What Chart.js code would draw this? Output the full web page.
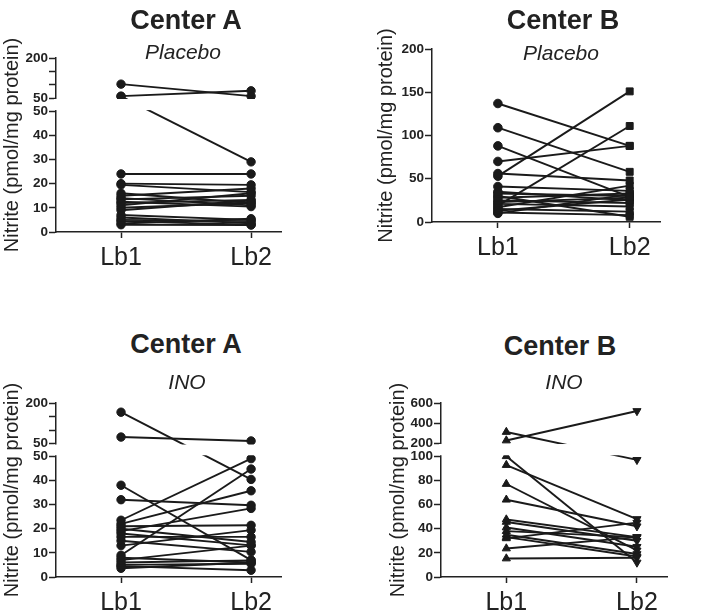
<!DOCTYPE html>
<html>
<head>
<meta charset="utf-8">
<script src="https://cdn.jsdelivr.net/npm/chart.js@4.4.1/dist/chart.umd.min.js"></script>
<style>
  body { margin: 0; background: #fff; }
  #wrap { position: relative; width: 706px; height: 613px; overflow: hidden; }
  canvas { position: absolute; }
  .ttl, .sub { position: absolute; width: 240px; text-align: center; color: #222;
               font-family: 'Liberation Sans', Arial, sans-serif; white-space: nowrap; }
  .ttl { font-size: 27px; line-height: 27px; font-weight: bold; }
  .sub { font-size: 21px; line-height: 21px; font-style: italic; }
</style>
</head>
<body>
<div id="wrap">
  <canvas id="c1" width="287" height="254" style="left:0px;top:23px"></canvas>
  <canvas id="c2" width="292" height="253" style="left:374px;top:14px"></canvas>
  <canvas id="c3" width="287" height="254" style="left:0px;top:368px"></canvas>
  <canvas id="c4" width="287" height="254" style="left:386px;top:368px"></canvas>

  <div class="ttl" style="left:66px;top:7px">Center A</div>
  <div class="sub" style="left:63px;top:41px">Placebo</div>
  <div class="ttl" style="left:443px;top:7px">Center B</div>
  <div class="sub" style="left:441px;top:42px">Placebo</div>
  <div class="ttl" style="left:66px;top:331px">Center A</div>
  <div class="sub" style="left:67px;top:371px">INO</div>
  <div class="ttl" style="left:440px;top:333px">Center B</div>
  <div class="sub" style="left:444px;top:371px">INO</div>
</div>
<script>
const categories = ['Lb1', 'Lb2'];

// Center A, placebo
const aPlaceboLb1 = [102, 57, 56, 24, 20, 19.5, 16, 15, 14, 13.5, 12.5, 12, 11, 10, 9, 7, 6, 5, 4.5, 3.5, 3];
const aPlaceboLb2 = [57, 77, 29, 24, 19.5, 16.5, 12, 18, 11, 15, 10.5, 13.3, 16, 12, 13, 5, 3.6, 4.5, 3, 5.5, 2.9];
// Center B, placebo
const bPlaceboLb1 = [137, 109, 88, 70, 56, 53, 41, 35, 33, 30, 28, 25, 23, 21, 19, 17, 15, 13, 11, 10];
const bPlaceboLb2 = [88, 58, 29, 88, 48, 151, 36, 25, 30, 6, 33, 22, 28, 18, 111, 42, 12, 26, 8, 32];
// Center A, INO
const aInoLb1 = [166, 74, 38, 32, 23.5, 22, 21, 20, 19, 18, 16.6, 15, 13, 9, 8, 7, 6, 5, 4.5, 3.6];
const aInoLb2 = [40.4, 59.6, 7, 29.7, 49, 35.7, 21.4, 14.5, 28.4, 13.1, 16.6, 10.4, 19.4, 44.7, 6, 13, 6.9, 5.5, 2.8, 6];
// Center B, INO
const bInoLb1 = [310, 225, 100, 92.7, 77, 64, 47.6, 45.6, 41, 38, 35, 33, 32, 23.6, 15.3];
const bInoLb2 = [97, 520, 12, 48, 22, 42, 33, 30, 25, 33, 19, 17, 45, 33, 16];

// y ticks
const aLowTicks = [0, 10, 20, 30, 40, 50];
const aHighTicks = [50, 100, 150, 200];
const aHighLabelled = [50, 200];
const bPlaceboTicks = [0, 50, 100, 150, 200];
const bInoLowTicks = [0, 20, 40, 60, 80, 100];
const bInoHighTicks = [200, 400, 600];

const FONT = "'Liberation Sans', Arial, sans-serif";
const INK = '#222';

// linear scale with a broken (two segment) axis
class BrokenScale extends Chart.LinearScale {
  _dec(v) {
    const b = this.options.brk;
    const up = 1 - b.low - b.gap;
    if (v <= b.lowTop) return (v - this.min) / (b.lowTop - this.min) * b.low;
    if (v < b.upBottom) return b.low + (v - b.lowTop) / (b.upBottom - b.lowTop) * b.gap;
    return b.low + b.gap + (v - b.upBottom) / (this.max - b.upBottom) * up;
  }
  getPixelForValue(v) {
    if (v === null || v === undefined || isNaN(v)) return NaN;
    return this.getPixelForDecimal(this._dec(v));
  }
  getValueForPixel(p) {
    const b = this.options.brk, d = this.getDecimalForPixel(p);
    if (d <= b.low) return this.min + d / b.low * (b.lowTop - this.min);
    if (d < b.low + b.gap) return b.lowTop + (d - b.low) / b.gap * (b.upBottom - b.lowTop);
    return b.upBottom + (d - b.low - b.gap) / (1 - b.low - b.gap) * (this.max - b.upBottom);
  }
}
BrokenScale.id = 'broken';
BrokenScale.defaults = Chart.LinearScale.defaults;
Chart.register(BrokenScale);

// white out the axis gap
const breakMask = {
  id: 'breakMask',
  afterDraw(chart) {
    const y = chart.scales.y;
    const b = y.options.brk;
    if (!b) return;
    const gTop = y.getPixelForDecimal(b.low + b.gap);
    const gBot = y.getPixelForDecimal(b.low);
    const ctx = chart.ctx;
    ctx.save();
    ctx.fillStyle = '#fff';
    ctx.fillRect(chart.chartArea.left - 2, gTop + 1, chart.width, gBot - gTop - 2);
    ctx.restore();
  }
};

function yAxis(width, extra) {
  return Object.assign({
    afterFit: s => { s.width = width; },
    title: { display: true, text: 'Nitrite (pmol/mg protein)', color: INK,
             font: { family: FONT, size: 20 }, padding: { top: 0, bottom: 0 } },
    grid: { drawOnChartArea: false, drawTicks: true, tickLength: 7, tickWidth: 1.5, tickColor: INK },
    border: { color: INK, width: 1.5 }
  }, extra);
}

function tickSet(values, labels) {
  return {
    afterBuildTicks: s => { s.ticks = values.map(v => ({ value: v })); },
    ticks: { autoSkip: false, padding: 1, color: INK,
             font: { family: FONT, size: 13.5, weight: 'bold' },
             callback: (v, i) => labels[i] }
  };
}

function brokenTicks(low, high, labelled) {
  const top = low[low.length - 1];
  const values = low.concat(high.map(v => v === top ? v + 1e-6 : v));
  const labels = low.map(String).concat(high.map(v => labelled.includes(v) ? String(v) : ''));
  return tickSet(values, labels);
}

function makePanel(id, lb1, lb2, marks, yOpts) {
  const datasets = lb1.map((v, i) => ({
    data: [{ x: 1, y: v }, { x: 2, y: lb2[i] }],
    borderColor: '#1a1a1a',
    borderWidth: 1.9,
    backgroundColor: '#1a1a1a',
    pointBackgroundColor: '#1a1a1a',
    pointBorderColor: '#1a1a1a',
    pointBorderWidth: 1,
    pointStyle: marks.style,
    pointRadius: marks.radius,
    pointRotation: marks.rotation,
    tension: 0
  }));
  new Chart(document.getElementById(id), {
    type: 'line',
    data: { datasets },
    plugins: [breakMask],
    options: {
      responsive: false,
      animation: false,
      devicePixelRatio: 1,
      layout: { padding: { top: 35, right: 6, left: 0, bottom: 0 } },
      plugins: { legend: { display: false }, tooltip: { enabled: false } },
      scales: {
        x: {
          type: 'linear', min: 0.5, max: 2.23,
          afterBuildTicks: s => { s.ticks = categories.map((c, i) => ({ value: i + 1 })); },
          afterFit: s => { s.height = 45; },
          ticks: { autoSkip: false, maxRotation: 0, padding: 5, color: INK,
                   font: { family: FONT, size: 25 }, callback: (v, i) => categories[i] },
          grid: { drawOnChartArea: false, drawTicks: true, tickLength: 6, tickWidth: 1.5, tickColor: INK },
          border: { color: INK, width: 1.5 }
        },
        y: yOpts
      }
    }
  });
}

const circles = { style: ['circle', 'circle'], radius: [4.2, 4.2], rotation: [0, 0] };
const circleSquare = { style: ['circle', 'rect'], radius: [4.3, 4.9], rotation: [0, 0] };
const triangles = { style: ['triangle', 'triangle'], radius: [4.7, 4.7], rotation: [0, 180] };

makePanel('c1', aPlaceboLb1, aPlaceboLb2, circles,
  yAxis(56, Object.assign({ type: 'broken', min: 0, max: 200,
    brk: { lowTop: 50, upBottom: 50, low: 0.695, gap: 0.075 } },
    brokenTicks(aLowTicks, aHighTicks, aHighLabelled))));

makePanel('c2', bPlaceboLb1, bPlaceboLb2, circleSquare,
  yAxis(58, Object.assign({ type: 'linear', min: 0, max: 200 },
    tickSet(bPlaceboTicks, bPlaceboTicks.map(String)))));

makePanel('c3', aInoLb1, aInoLb2, circles,
  yAxis(56, Object.assign({ type: 'broken', min: 0, max: 200,
    brk: { lowTop: 50, upBottom: 50, low: 0.694, gap: 0.073 } },
    brokenTicks(aLowTicks, aHighTicks, aHighLabelled))));

makePanel('c4', bInoLb1, bInoLb2, triangles,
  yAxis(55, Object.assign({ type: 'broken', min: 0, max: 600,
    brk: { lowTop: 100, upBottom: 200, low: 0.694, gap: 0.076 } },
    brokenTicks(bInoLowTicks, bInoHighTicks, bInoHighTicks))));
</script>
</body>
</html>
